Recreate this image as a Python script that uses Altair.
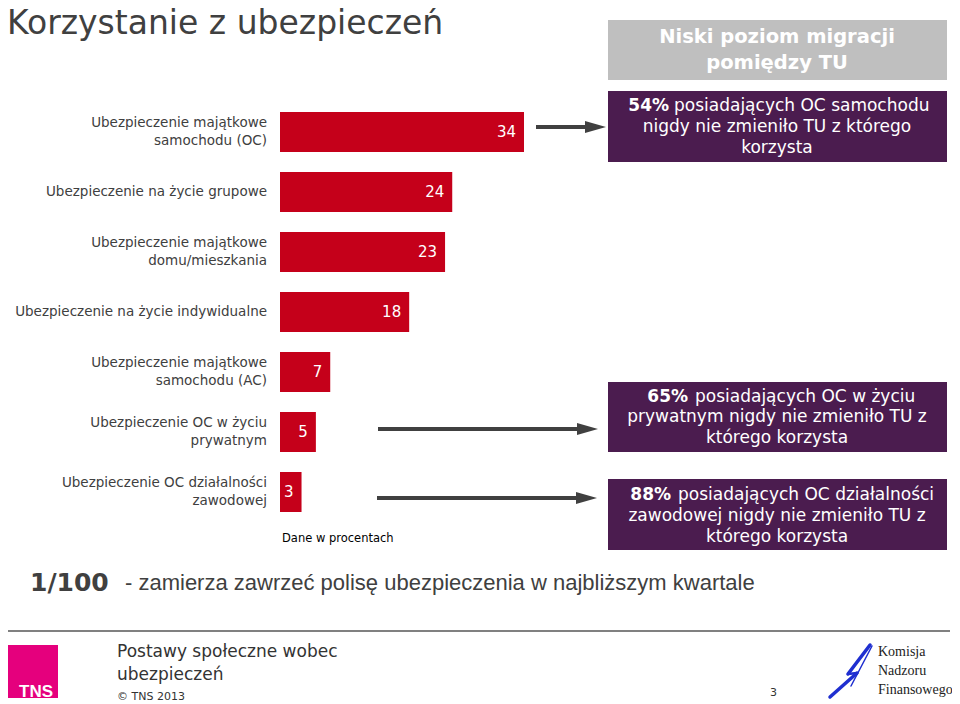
import altair as alt
import pandas as pd

# ---- data ----
categories = ["oc_auto", "zycie_grup", "dom", "zycie_ind", "ac_auto", "oc_pryw", "oc_dzial"]
category_labels = [
    "Ubezpieczenie majątkowe\nsamochodu (OC)",
    "Ubezpieczenie na życie grupowe",
    "Ubezpieczenie majątkowe\ndomu/mieszkania",
    "Ubezpieczenie na życie indywidualne",
    "Ubezpieczenie majątkowe\nsamochodu (AC)",
    "Ubezpieczenie OC w życiu\nprywatnym",
    "Ubezpieczenie OC działalności\nzawodowej",
]
values = [34, 24, 23, 18, 7, 5, 3]

title_text = "Korzystanie z ubezpieczeń"
header_lines = "Niski poziom migracji\npomiędzy TU"
box1_bold, box1_l1, box1_rest = "54%", "posiadających OC samochodu", "nigdy nie zmieniło TU z którego\nkorzysta"
box2_bold, box2_l1, box2_rest = "65%", "posiadających OC w życiu", "prywatnym nigdy nie zmieniło TU z\nktórego korzysta"
box3_bold, box3_l1, box3_rest = "88%", "posiadających OC działalności", "zawodowej nigdy nie zmieniło TU z\nktórego korzysta"
note_text = "Dane w procentach"
bottom_bold = "1/100"
bottom_rest = "- zamierza zawrzeć polisę ubezpieczenia w najbliższym kwartale"
footer_title = "Postawy społeczne wobec\nubezpieczeń"
footer_copy = "© TNS   2013"
page_no = "3"
knf_text = "Komisja\nNadzoru\nFinansowego"

df = pd.DataFrame({"cat": categories, "label": category_labels, "val": values})
df["multi"] = df["label"].str.contains("\n")

FONT = "DejaVu Sans"
RED = "#C5001A"
PURPLE = "#4B1C4F"
GREY_BOX = "#BFBFBF"
DARK = "#404040"

ys = alt.Y("cat:N", sort=categories, axis=None,
           scale=alt.Scale(range=[104, 504], paddingInner=1/3, paddingOuter=0))
xs = alt.X("val:Q", axis=None, scale=alt.Scale(domain=[0, 34], range=[272, 516]))

base = alt.Chart(df)
bars = base.mark_bar(color=RED, cornerRadius=0).encode(x=xs, x2=alt.datum(0), y=ys)
vals = base.mark_text(align="right", baseline="middle", dx=-8, color="white",
                      font=FONT, fontSize=15).encode(x=xs, y=ys, text="val:Q")
cats_single = base.transform_filter("!datum.multi").mark_text(
    align="right", baseline="middle", color=DARK, font=FONT, fontSize=13.5).encode(
    x=alt.value(259), y=ys, text="label:N")
cats_multi = base.transform_filter("datum.multi").mark_text(
    align="right", baseline="middle", color=DARK, font=FONT, fontSize=13.5,
    lineBreak="\n", lineHeight=18, dy=-9).encode(
    x=alt.value(259), y=ys, text="label:N")

one = alt.Data(values=[{"k": 1}])


def rect(x, x2, y, y2, color):
    return alt.Chart(one).mark_rect(color=color).encode(
        x=alt.value(x), x2=alt.value(x2), y=alt.value(y), y2=alt.value(y2))


def txt(x, y, s, **kw):
    kw.setdefault("font", FONT)
    kw.setdefault("baseline", "middle")
    return alt.Chart(one).mark_text(**kw).encode(
        x=alt.value(x), y=alt.value(y), text=alt.value(s))


def arrow(x1, x2, y):
    line = alt.Chart(one).mark_rule(color=DARK, strokeWidth=4).encode(
        x=alt.value(x1), x2=alt.value(x2 - 10), y=alt.value(y))
    head = alt.Chart(one).mark_point(
        shape="M-1,-0.57L1,0L-1,0.57Z", filled=True, color=DARK, opacity=1, size=441,
        strokeWidth=0).encode(x=alt.value(x2 - 10.5), y=alt.value(y))
    return line + head


def seg(x1, y1, x2, y2, w, color):
    return alt.Chart(one).mark_rule(color=color, strokeWidth=w, strokeCap="round").encode(
        x=alt.value(x1), y=alt.value(y1), x2=alt.value(x2), y2=alt.value(y2))


BX1, BX2 = 600, 939
FS = 17
layers = [
    txt(-1, 26, title_text, align="left", baseline="alphabetic", fontSize=33, color=DARK),
    rect(BX1, BX2, 12, 72, GREY_BOX),
    txt(769, 29, header_lines, align="center", fontSize=19.5, fontWeight="bold",
        color="white", lineBreak="\n", lineHeight=26, baseline="middle"),
    rect(BX1, BX2, 83, 154, PURPLE),
    txt(661, 98, box1_bold, align="right", fontSize=FS, fontWeight="bold", color="white"),
    txt(666, 98, box1_l1, align="left", fontSize=FS, color="white"),
    txt(769, 119, box1_rest, align="center", fontSize=FS, color="white", lineBreak="\n",
        lineHeight=21, baseline="middle"),
    rect(BX1, BX2, 374, 444, PURPLE),
    txt(680, 389, box2_bold, align="right", fontSize=FS, fontWeight="bold", color="white"),
    txt(687, 389, box2_l1, align="left", fontSize=FS, color="white"),
    txt(769, 409, box2_rest, align="center", fontSize=FS, color="white", lineBreak="\n",
        lineHeight=21, baseline="middle"),
    rect(BX1, BX2, 471, 542, PURPLE),
    txt(663, 487, box3_bold, align="right", fontSize=FS, fontWeight="bold", color="white"),
    txt(670, 487, box3_l1, align="left", fontSize=FS, color="white"),
    txt(769, 508, box3_rest, align="center", fontSize=FS, color="white", lineBreak="\n",
        lineHeight=21, baseline="middle"),
    arrow(528, 598, 119),
    arrow(370, 590, 421),
    arrow(369, 589, 490),
    txt(274, 531, note_text, align="left", fontSize=11.5, color="#000000"),
    txt(22, 575, bottom_bold, align="left", fontSize=25, fontWeight="bold", color=DARK),
    txt(117, 575, bottom_rest, align="left", fontSize=22, color=DARK, font="Liberation Sans"),
    alt.Chart(one).mark_rule(color="#808080", strokeWidth=2).encode(
        x=alt.value(-3), x2=alt.value(942), y=alt.value(623)),
    rect(-4, 50, 637, 690, "#E5007D"),
    txt(28, 684, "TNS", align="center", fontSize=17, fontWeight="bold", color="white",
        font="Liberation Sans Narrow, Liberation Sans"),
    txt(109, 644, footer_title, align="left", fontSize=17, color="#333333", lineBreak="\n",
        lineHeight=23, baseline="middle"),
    txt(109, 689, footer_copy, align="left", fontSize=11, color="#333333"),
    txt(762, 685, page_no, align="left", fontSize=11, color="#333333"),
    seg(862, 637, 840, 666, 3.5, "#1F2FD0"),
    seg(840, 666, 849, 665, 2.5, "#1F2FD0"),
    seg(849, 665, 822, 689, 3.5, "#1F2FD0"),
    seg(864, 638, 843, 678, 1.5, "#1F2FD0"),
    txt(870, 644, knf_text, align="left", fontSize=14, color="#222222",
        font="Liberation Serif", lineBreak="\n", lineHeight=19, baseline="middle"),
]

chart = alt.layer(bars, vals, cats_single, cats_multi, *layers).properties(
    width=944, height=696, padding=0,
    autosize=alt.AutoSizeParams(type="none"),
    background="white",
).configure_view(stroke=None)

chart.save("out.html", embed_options={"renderer": "svg", "actions": False})
